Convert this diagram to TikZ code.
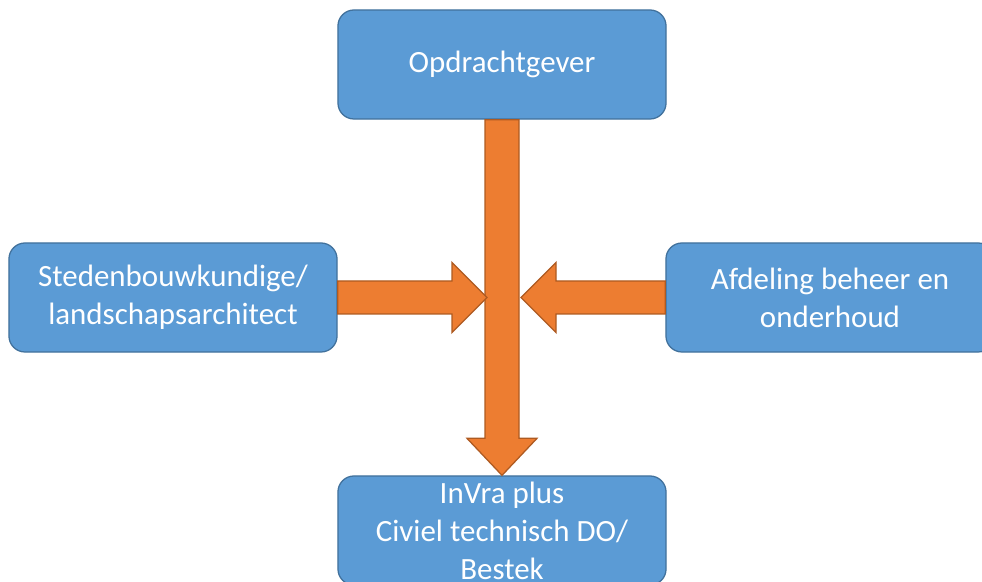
\documentclass[tikz,border=0pt]{standalone}
\usepackage{fontspec}
\setmainfont{Carlito}
\usetikzlibrary{calc}

\definecolor{blokblauw}{HTML}{5B9BD5}
\definecolor{blokrand}{HTML}{41719C}
\definecolor{pijloranje}{HTML}{ED7D31}
\definecolor{pijlrand}{HTML}{AE5A21}

\begin{document}
\begin{tikzpicture}[x=0.025cm, y=-0.025cm,
  blok/.style={rectangle, rounded corners=0.4cm, draw=blokrand, line width=0.9pt,
    fill=blokblauw, text=white, align=center, minimum width=8.2cm,
    minimum height=2.725cm, inner sep=0pt, font=\fontsize{22}{27}\selectfont},
  pijl/.style={draw=pijlrand, line width=0.9pt, fill=pijloranje, line join=miter}]

\clip (0,0) rectangle (982,582);
\useasboundingbox (0,0) rectangle (982,582);

\node[blok] (O) at (502,64.5)  {Opdrachtgever};
\node[blok] (S) at (173,297.5) {Stedenbouwkundige/\\landschapsarchitect};
\node[blok] (A) at (830,297.5) {Afdeling beheer en\\onderhoud};
\node[blok] (I) at (502,530.5) {InVra plus\\Civiel technisch DO/\\Bestek};

\coordinate (SL) at (487,297.5);
\coordinate (AL) at (521,297.5);

\draw[pijl] ($(O.south)+(-17,0)$) -- ($(I.north)+(-17,-37)$) -- ($(I.north)+(-35,-37)$)
  -- (I.north) -- ($(I.north)+(35,-37)$) -- ($(I.north)+(17,-37)$)
  -- ($(O.south)+(17,0)$) -- cycle;

\draw[pijl] ($(S.east)+(0,-16.5)$) -- ($(SL)+(-35,-16.5)$) -- ($(SL)+(-35,-35)$)
  -- (SL) -- ($(SL)+(-35,35)$) -- ($(SL)+(-35,16.5)$) -- ($(S.east)+(0,16.5)$) -- cycle;

\draw[pijl] ($(A.west)+(0,-16.5)$) -- ($(AL)+(35,-16.5)$) -- ($(AL)+(35,-35)$)
  -- (AL) -- ($(AL)+(35,35)$) -- ($(AL)+(35,16.5)$) -- ($(A.west)+(0,16.5)$) -- cycle;

\end{tikzpicture}
\end{document}
